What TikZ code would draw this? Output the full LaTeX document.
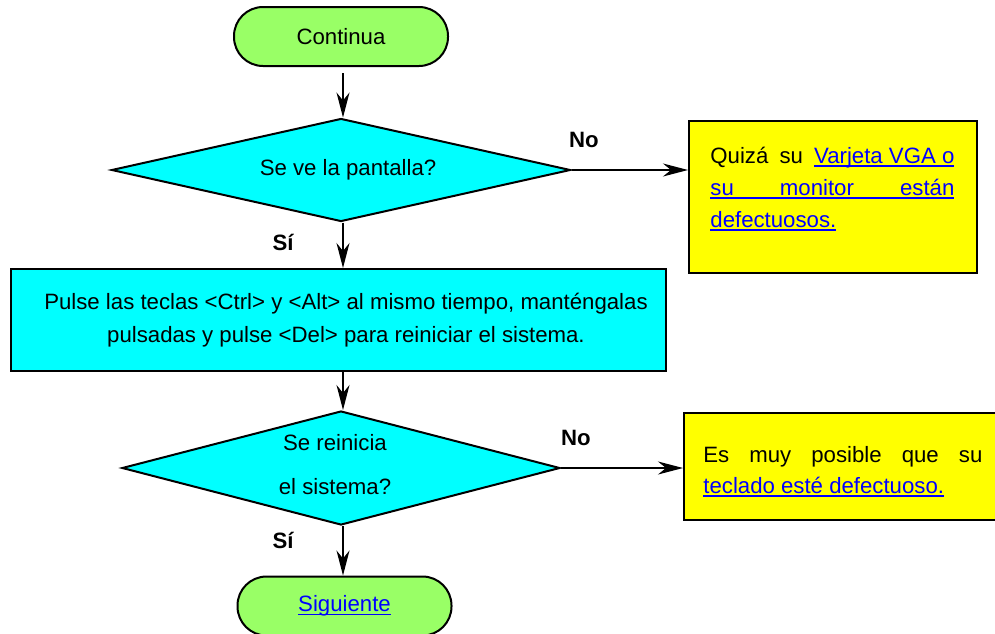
\documentclass[tikz,border=0pt]{standalone}
\usepackage{fontspec}
\setmainfont{Liberation Sans}
\usetikzlibrary{shapes.geometric,arrows.meta,calc}
\definecolor{termgreen}{HTML}{99FF66}
\definecolor{boxcyan}{HTML}{00FFFF}
\definecolor{noteyellow}{HTML}{FFFF00}
\definecolor{linkblue}{HTML}{0000FF}
\newcommand\lnk[1]{{\color{linkblue}\setbox0\hbox{#1}\rlap{\rule[-1.8pt]{\wd0}{0.9pt}}\box0}}
\begin{document}
\begin{tikzpicture}[x=0.5pt,y=-0.5pt,
  font=\fontsize{11.1}{13}\selectfont,
  term/.style={draw, line width=1pt, fill=termgreen, rounded corners=14.5pt, minimum width=107pt, minimum height=29.5pt, inner sep=0pt},
  dec/.style={diamond, aspect=4, draw, line width=1pt, fill=boxcyan, inner sep=0pt},
  proc/.style={draw, line width=1pt, fill=boxcyan},
  note/.style={draw, line width=1pt, fill=noteyellow, anchor=north west},
  line/.style={anchor=base west, inner sep=0pt},
  arr/.style={-{Stealth[length=12.5pt,width=6.5pt,inset=4pt]}, line width=0.75pt},
  lab/.style={font=\fontsize{11.1}{13}\selectfont\bfseries}]
\useasboundingbox (0,0) rectangle (995,633);
\node[term] (cont) at (341,36.5) {Continua};
\node[dec, minimum width=229.5pt, minimum height=51.5pt] (d1) at (341,170) {\hspace*{7pt}Se ve la pantalla?};
\node[proc, minimum width=327.5pt, minimum height=51pt, align=center, font=\fontsize{11.1}{16.5}\selectfont] (p1) at (338.5,320)
  {\hspace*{7.5pt}Pulse las teclas <Ctrl> y <Alt> al mismo tiempo, manténgalas\\\hspace*{7.5pt}pulsadas y pulse <Del> para reiniciar el sistema.};
\node[dec, minimum width=219pt, minimum height=57pt, align=center, font=\fontsize{11.1}{22}\selectfont] (d2) at (341,468)
  {Se reinicia\hspace*{6pt}\\el sistema?\hspace*{6pt}\rule[-4pt]{0pt}{0pt}};
\node[term] (sig) at (344.5,606) {\lnk{Siguiente}};
\node[note, minimum width=144pt, minimum height=76pt] (n1) at (688,120) {};
\node[line] (n1a) at (710,163) {\makebox[122pt][s]{Quizá su \lnk{Varjeta VGA o}}};
\node[line] (n1b) at (710,195) {\lnk{\makebox[122pt][s]{su monitor están}}};
\node[line] (n1c) at (710,227) {\lnk{defectuosos.}};
\node[note, minimum width=158pt, minimum height=53.5pt] (n2) at (683,412) {};
\node[line] (n2a) at (703,462) {\makebox[139.5pt][s]{Es muy posible que su}};
\node[line] (n2b) at (703,493) {\lnk{teclado esté defectuoso.}};
\node[lab] (no1) at (584,140) {No};
\node[lab] (si1) at (283,242) {Sí};
\node[lab] (no2) at (576,438) {No};
\node[lab] (si2) at (283,540) {Sí};
\coordinate (ax) at (343,0);
\draw[arr, shorten <=3pt] (cont.south -| ax) -- (d1.north -| ax);
\draw[arr] (d1.south -| ax) -- (p1.north -| ax);
\draw[arr] (p1.south -| ax) -- (d2.north -| ax);
\draw[arr] (d2.south -| ax) -- (sig.north -| ax);
\draw[arr] (d1.east) -- (d1.east -| n1.west);
\draw[arr] (d2.east) -- (d2.east -| n2.west);
\end{tikzpicture}
\end{document}
